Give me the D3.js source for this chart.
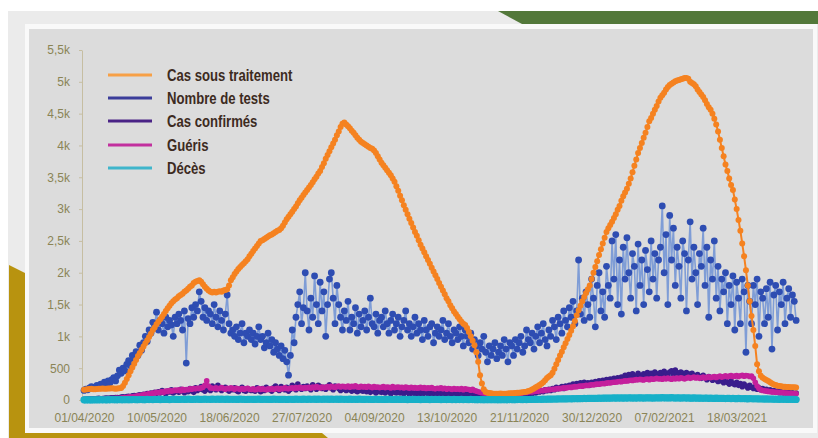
<!DOCTYPE html>
<html>
<head>
<meta charset="utf-8">
<script src="https://cdn.jsdelivr.net/npm/d3@7"></script>
<style>
  body { margin: 0; background: #fff; }
  svg { display: block; }
</style>
</head>
<body>
<svg id="chart" width="818" height="438"></svg>
<script>
// Daily series, one value per day starting on startDate
const startDate = "2020-04-01";

const casSousTraitement = [
  160,165,170,172,175,170,168,172,175,178,
  180,178,175,180,182,185,180,178,182,185,
  190,220,270,330,390,450,510,570,630,690,
  740,790,840,890,940,990,1040,1100,1140,1190,
  1230,1270,1310,1350,1400,1440,1480,1520,1550,1580,
  1600,1630,1650,1670,1700,1720,1750,1780,1800,1840,
  1860,1870,1880,1860,1820,1780,1750,1720,1700,1690,
  1700,1690,1700,1710,1700,1720,1730,1740,1800,1880,
  1930,1980,2020,2060,2090,2120,2150,2180,2210,2260,
  2300,2340,2380,2420,2460,2500,2510,2530,2550,2570,
  2590,2600,2620,2640,2660,2670,2700,2740,2790,2840,
  2880,2920,2960,3000,3040,3090,3140,3180,3220,3260,
  3300,3340,3380,3420,3470,3510,3560,3600,3660,3720,
  3790,3850,3910,3970,4030,4090,4160,4220,4290,4340,
  4360,4330,4300,4270,4230,4200,4160,4120,4090,4060,
  4040,4020,4000,3980,3960,3950,3920,3880,3830,3780,
  3730,3690,3650,3610,3570,3530,3480,3430,3360,3290,
  3210,3140,3060,2990,2920,2850,2780,2710,2640,2580,
  2510,2440,2380,2320,2260,2200,2140,2080,2020,1960,
  1900,1840,1780,1720,1660,1600,1550,1490,1440,1390,
  1350,1310,1270,1230,1200,1180,1130,1070,1000,930,
  860,750,600,390,260,170,125,115,110,105,
  100,100,98,100,102,100,98,100,102,105,
  105,108,110,112,115,118,120,125,130,140,
  150,165,180,200,215,235,255,280,310,345,
  370,390,430,490,560,630,700,760,830,890,
  960,1020,1090,1160,1240,1330,1410,1480,1550,1620,
  1680,1740,1800,1900,2000,2090,2180,2280,2370,2460,
  2550,2640,2700,2750,2800,2860,2920,2990,3050,3130,
  3200,3260,3320,3400,3480,3580,3680,3780,3880,3960,
  4040,4120,4200,4290,4380,4430,4500,4560,4620,4690,
  4750,4790,4830,4880,4920,4950,4970,4990,5010,5020,
  5030,5040,5050,5060,5060,5050,5000,4980,4960,4930,
  4880,4840,4800,4760,4710,4650,4600,4560,4500,4420,
  4330,4220,4090,3960,3830,3700,3600,3480,3380,3300,
  3150,3000,2830,2660,2460,2260,2040,1800,1550,1320,
  1100,850,560,450,380,350,330,315,300,280,
  260,245,235,225,220,215,210,210,205,205,
  200,200,200,195
];

const nombreTests = [
  150,170,160,190,210,180,200,230,210,250,
  240,280,260,300,270,320,350,300,380,470,
  420,500,460,560,620,540,700,650,760,700,
  860,780,900,1000,920,1100,1050,1220,1180,1380,
  1100,1250,1200,1050,1300,1150,1250,1180,1000,1300,
  1200,1350,1250,1100,1400,580,1280,1200,1450,1300,
  1500,1400,1700,1550,1300,1450,1250,1400,1350,1200,
  1500,1300,1150,1400,1250,1100,1350,1650,1200,1050,
  1100,1000,1150,950,1050,1200,900,1050,1000,1100,
  950,1050,880,1000,1150,950,1000,820,900,1050,
  850,950,750,900,800,700,850,650,780,600,
  390,700,1100,900,1300,1500,1700,1200,1450,2000,
  1400,1100,1600,1300,1950,1500,1200,1850,1400,1700,
  1000,1500,1900,2000,1600,1200,1800,1500,1300,1100,
  1400,1250,1550,1100,1300,1200,1450,1050,1350,1150,
  1250,1400,1100,1300,1600,1200,1150,1350,1050,1250,
  1300,1150,1400,1200,1050,1250,1350,1100,1200,1300,
  1000,1150,1250,1400,1100,1200,1000,1150,1300,1050,
  1200,1100,950,1250,1100,1000,1150,1200,900,1050,
  1150,1000,1100,1250,950,1050,1200,1000,900,1100,
  1050,950,1150,1000,850,1100,1000,900,1050,800,
  950,850,700,900,800,1000,750,600,850,700,
  800,900,650,750,850,700,950,800,600,900,
  850,700,950,800,900,1000,750,850,1100,950,
  900,1050,800,1000,1150,900,1050,1200,950,850,
  1100,1000,1250,1150,950,1300,1200,1050,1400,1250,
  1150,1450,1300,1550,1200,1400,2200,1350,1600,1250,
  1700,1500,1300,1900,1600,1150,1800,2000,1400,1700,
  1300,2100,1800,1600,2500,1900,2600,1500,2200,1350,
  2400,1900,2550,2000,1600,2300,2100,1400,2450,1800,
  2200,1500,2350,2050,1700,2500,1900,2300,1600,2200,
  2400,3050,2000,2600,1500,2900,2200,2700,1800,2400,
  2100,1600,2500,2300,1400,2200,2800,1900,2400,2000,
  1500,2300,2100,2700,1800,2400,1300,2200,1900,2500,
  1600,2100,1400,1900,1700,2000,1200,1800,1500,1950,
  1100,1850,1600,1200,1900,1700,750,1800,1550,1200,
  1800,1500,1900,1000,1700,1600,1200,1750,1300,1850,
  800,1650,1800,1100,1700,1500,1850,1200,1600,1750,
  1300,1650,1550,1250
];

const casConfirmes = [
  10,12,15,14,18,20,16,22,25,20,
  24,28,30,26,32,35,30,38,40,36,
  45,50,42,55,60,52,65,70,58,75,
  80,70,90,85,100,95,110,90,120,105,
  130,110,150,120,100,140,125,160,110,135,
  150,120,170,140,115,160,130,180,145,120,
  190,150,170,210,160,140,200,170,150,220,
  180,160,230,190,150,170,200,160,140,180,
  160,190,150,130,170,200,150,140,180,160,
  150,170,140,190,160,130,180,150,200,170,
  160,140,190,220,170,150,210,180,160,200,
  140,170,230,200,160,250,190,170,210,180,
  220,190,160,240,200,170,230,210,180,200,
  170,210,240,190,160,220,200,180,150,190,
  170,150,190,160,140,180,150,130,170,150,
  140,160,130,170,120,150,140,110,160,130,
  120,150,110,140,130,100,150,120,110,140,
  110,130,100,140,120,90,130,110,100,120,
  100,120,90,110,130,95,110,85,120,100,
  90,110,80,100,120,85,105,75,95,110,
  80,100,70,95,85,110,75,90,65,85,
  70,90,60,80,75,65,85,55,70,80,
  60,75,55,70,85,60,75,65,80,70,
  75,90,70,85,100,80,95,110,90,105,
  120,100,130,110,140,125,150,130,160,145,
  170,150,180,160,200,175,190,210,180,220,
  200,230,210,250,220,260,240,270,230,280,
  240,270,230,280,260,290,250,300,270,310,
  280,320,290,330,300,340,310,350,320,360,
  350,390,360,400,370,410,380,360,420,390,
  370,410,390,430,380,420,400,440,410,390,
  430,400,450,420,390,440,460,410,470,430,
  400,440,420,380,430,410,370,420,390,360,
  400,370,340,390,350,320,370,340,310,350,
  320,290,340,300,270,320,280,250,300,260,
  240,280,230,260,210,250,220,190,230,200,
  180,210,170,190,160,180,150,170,140,160,
  130,150,120,140,115,130,110,125,105,120,
  100,115,95,110
];

const gueris = [
  5,6,8,6,10,8,12,10,9,14,
  12,15,18,14,20,22,18,25,28,24,
  30,35,40,38,45,50,48,55,60,65,
  70,75,80,90,85,100,95,110,105,120,
  115,125,130,120,140,135,150,140,145,155,
  150,160,145,170,155,165,160,175,170,180,
  175,185,180,190,200,230,300,220,190,185,
  180,190,175,185,195,180,170,185,175,190,
  180,170,185,175,165,180,170,175,185,170,
  165,175,160,170,180,165,175,170,160,175,
  170,180,165,175,185,170,180,175,190,180,
  175,185,190,180,195,185,200,190,185,195,
  190,200,185,205,195,210,200,190,205,195,
  200,210,195,215,205,200,210,220,205,215,
  210,205,220,200,215,210,225,205,200,215,
  205,210,200,215,205,195,210,200,205,195,
  200,210,195,205,200,190,210,195,200,205,
  195,200,190,205,195,185,200,190,195,185,
  190,200,185,195,180,190,185,195,180,175,
  185,180,190,175,185,170,180,175,165,180,
  170,175,165,180,160,175,170,165,155,170,
  150,140,130,120,115,110,105,100,98,95,
  92,90,88,85,90,88,92,86,90,95,
  98,100,105,102,110,108,115,120,118,125,
  130,128,135,140,138,145,150,148,155,160,
  158,165,170,168,175,180,178,185,190,188,
  195,200,198,205,210,208,215,220,218,225,
  230,228,235,240,238,245,250,248,255,260,
  258,265,270,268,275,280,278,285,290,288,
  295,300,298,305,310,308,315,320,318,325,
  320,315,325,330,320,335,325,330,340,330,
  335,325,340,330,345,335,325,340,330,345,
  335,350,340,330,345,355,340,350,360,345,
  355,340,350,360,345,355,365,350,360,370,
  355,365,375,360,370,380,365,375,385,370,
  375,385,370,380,390,375,385,380,370,375,
  340,280,220,180,160,150,145,140,135,130,
  128,125,122,120,118,115,112,110,108,105,
  104,102,100,98
];

const deces = [
  2,1,3,2,1,4,2,3,2,5,
  3,4,2,5,3,6,4,5,3,6,
  5,4,6,5,7,4,6,8,5,7,
  6,8,5,7,9,6,8,7,10,8,
  9,7,10,8,11,9,7,10,12,9,
  11,8,10,12,9,11,13,10,8,12,
  10,13,11,9,12,14,10,12,11,13,
  12,10,14,11,13,12,9,13,11,12,
  10,12,9,11,13,10,12,8,11,10,
  12,9,11,10,13,11,9,12,10,11,
  9,11,13,10,12,9,11,10,12,8,
  10,12,11,9,13,10,12,11,14,12,
  11,13,10,12,14,11,13,12,10,13,
  12,14,11,13,10,12,15,11,13,12,
  10,12,11,13,9,12,10,11,13,10,
  11,9,12,10,11,8,10,12,9,11,
  10,8,11,9,12,10,8,11,9,10,
  8,10,9,11,7,10,8,9,11,8,
  9,7,10,8,9,11,7,9,8,10,
  8,9,7,10,8,6,9,8,7,9,
  7,8,6,9,7,8,6,7,9,6,
  6,5,7,6,5,7,4,6,5,6,
  5,6,4,5,7,5,6,4,5,6,
  6,5,7,6,8,6,7,9,7,8,
  8,10,9,11,10,12,11,13,12,14,
  13,15,14,16,15,17,16,18,17,19,
  18,20,19,21,20,22,21,23,22,24,
  23,25,24,26,25,27,26,28,27,29,
  28,30,29,31,30,32,31,33,30,32,
  31,33,30,32,34,31,33,30,32,34,
  33,31,34,32,35,33,31,34,32,35,
  33,36,34,32,35,33,36,34,31,35,
  33,31,34,32,30,33,31,29,32,30,
  28,31,29,27,30,28,26,29,27,25,
  28,26,24,27,25,23,26,24,22,25,
  23,21,24,22,20,23,21,19,22,20,
  18,20,17,19,16,18,15,17,14,16,
  13,15,12,14,11,13,10,12,9,11,
  10,9,11,8
];

const seriesNames = ["Cas sous traitement", "Nombre de tests", "Cas confirmés", "Guéris", "Décès"];

const xTickDates = ["2020-04-01","2020-05-10","2020-06-18","2020-07-27","2020-09-04",
                    "2020-10-13","2020-11-21","2020-12-30","2021-02-07","2021-03-18"];
const yTickValues = [0,500,1000,1500,2000,2500,3000,3500,4000,4500,5000,5500];
const yTickLabels = ["0","500","1k","1,5k","2k","2,5k","3k","3,5k","4k","4,5k","5k","5,5k"];

// ---- styles ----
const colors = {
  cases: "#f58220",
  testsDot: "#2e4db2",
  testsLine: "#7f9dd6",
  confirmed: "#3a1d8c",
  recovered: "#c41f9c",
  deaths: "#17b0c8"
};
const legendColors = ["#f7a046", "#3b3d9a", "#4a2386", "#c2309e", "#3fb5cb"];
const tickColor = "#8a8456";

const svg = d3.select("#chart");

// ---- page frame ----
svg.append("rect").attr("x", 8).attr("y", 11).attr("width", 810).attr("height", 427).attr("fill", "#ebebeb");
svg.append("polygon").attr("points", "498,11 818,11 818,24 522,24").attr("fill", "#53783a");
svg.append("rect").attr("x", 25).attr("y", 24).attr("width", 792).attr("height", 409).attr("fill", "#f9f9f9");
svg.append("rect").attr("x", 29).attr("y", 29).attr("width", 784).attr("height", 399).attr("fill", "#dcdcdc");
svg.append("polygon").attr("points", "9,265 25,273 25,433 322,433 328,438 9,438").attr("fill", "#b8930f");

// ---- scales ----
const parse = d3.utcParse("%Y-%m-%d");
const t0 = parse(startDate);
const dayDate = i => d3.utcDay.offset(t0, i);

const x = d3.scaleUtc()
  .domain([t0, d3.utcDay.offset(t0, 384)])
  .range([84, 798]);
const y = d3.scaleLinear().domain([0, 5500]).range([400, 50]);

// ---- axes ----
const fmt = d3.utcFormat("%d/%m/%Y");
const xAxis = d3.axisBottom(x)
  .tickValues(xTickDates.map(parse))
  .tickFormat(fmt)
  .tickSize(0)
  .tickPadding(13);
const gx = svg.append("g").attr("transform", "translate(0,400)").call(xAxis);
gx.select(".domain").remove();
gx.selectAll("text")
  .attr("fill", tickColor)
  .style("font-family", "'Liberation Sans', Arial, sans-serif")
  .style("font-size", "12px");

const yAxis = d3.axisLeft(y)
  .tickValues(yTickValues)
  .tickFormat((d, i) => yTickLabels[i])
  .tickSizeInner(3)
  .tickSizeOuter(0)
  .tickPadding(9);
const gy = svg.append("g").attr("transform", "translate(82,0)").call(yAxis);
gy.select(".domain").attr("stroke", "#c6bea2");
gy.selectAll(".tick line").attr("stroke", "#c6bea2");
gy.selectAll("text")
  .attr("fill", tickColor)
  .style("font-family", "'Liberation Sans', Arial, sans-serif")
  .style("font-size", "12px");

// ---- series ----
function drawSeries(values, lineColor, dotColor, lineWidth, r) {
  const pts = values.map((v, i) => [x(dayDate(i)), y(v)]);
  const g = svg.append("g");
  g.append("path")
    .attr("d", d3.line()(pts))
    .attr("fill", "none")
    .attr("stroke", lineColor)
    .attr("stroke-width", lineWidth)
    .attr("stroke-linejoin", "round");
  g.selectAll("circle")
    .data(values)
    .join("circle")
    .attr("cx", (v, i) => x(dayDate(i)))
    .attr("cy", v => y(v))
    .attr("r", r)
    .attr("fill", dotColor);
}

drawSeries(nombreTests, colors.testsLine, colors.testsDot, 1.6, 3.4);
drawSeries(casConfirmes, colors.confirmed, colors.confirmed, 1.5, 2.8);
drawSeries(gueris, colors.recovered, colors.recovered, 1.5, 2.8);
drawSeries(casSousTraitement, colors.cases, colors.cases, 2, 3);
drawSeries(deces, colors.deaths, colors.deaths, 2, 3.6);

// ---- legend (condensed lettering) ----
const legend = svg.append("g");
const legendY = [75, 98, 121, 145, 168];
seriesNames.forEach((name, i) => {
  legend.append("line")
    .attr("x1", 108).attr("x2", 152)
    .attr("y1", legendY[i]).attr("y2", legendY[i])
    .attr("stroke", legendColors[i])
    .attr("stroke-width", 3);
  legend.append("text")
    .attr("transform", `translate(167,${legendY[i]}) scale(0.82,1)`)
    .attr("dy", "0.35em")
    .attr("fill", "#3d2b1f")
    .style("font-family", "'Liberation Sans', Arial, sans-serif")
    .style("font-weight", "bold")
    .style("font-size", "16px")
    .text(name);
});
</script>
</body>
</html>
